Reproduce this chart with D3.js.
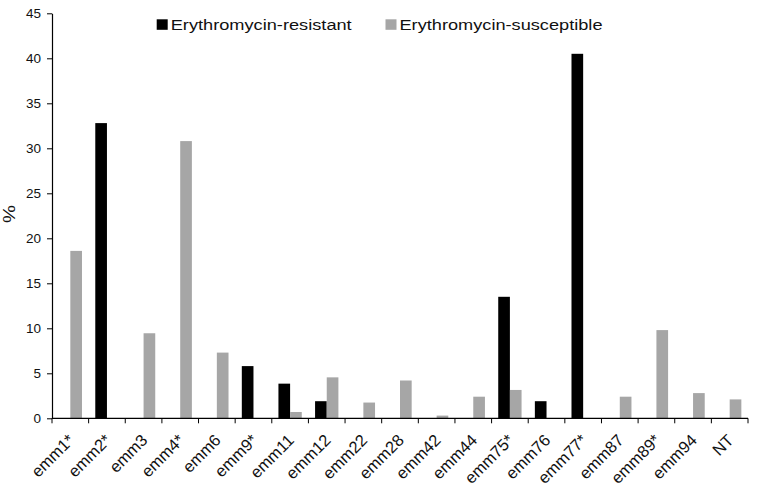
<!DOCTYPE html>
<html>
<head>
<meta charset="utf-8">
<script src="https://cdn.jsdelivr.net/npm/d3@7"></script>
<style>
  body { margin: 0; background: #fff; }
  svg { display: block; font-family: Arial, "Liberation Sans", sans-serif; }
</style>
</head>
<body>
<svg id="chart" width="761" height="503"></svg>
<script>
const categories = ["emm1*","emm2*","emm3","emm4*","emm6","emm9*","emm11","emm12","emm22","emm28","emm42","emm44","emm75*","emm76","emm77*","emm87","emm89*","emm94","NT"];
const resistant   = [0, 32.8, 0, 0, 0, 5.8, 3.85, 1.9, 0, 0, 0, 0, 13.5, 1.9, 40.5, 0, 0, 0, 0];
const susceptible = [18.6, 0, 9.45, 30.8, 7.3, 0, 0.7, 4.55, 1.75, 4.2, 0.3, 2.4, 3.15, 0, 0, 2.4, 9.8, 2.8, 2.1];
const seriesNames = ["Erythromycin-resistant", "Erythromycin-susceptible"];
const seriesColors = ["#000000", "#a6a6a6"];
const yTicks = [0, 5, 10, 15, 20, 25, 30, 35, 40, 45];

(function () {
const svg = d3.select("#chart");
const mLeft = 52, mRight = 748, mTop = 13.3, mBottom = 418.3;

const x = d3.scaleBand().domain(categories).range([mLeft, mRight]).paddingInner(0).paddingOuter(0);
const xs = d3.scaleBand().domain([0, 1]).range([0, x.bandwidth()]).paddingInner(0).paddingOuter(0.57);
const y = d3.scaleLinear().domain([0, 45]).range([mBottom, mTop]);

// bars
const data = [];
categories.forEach((c, i) => {
  data.push({ c, s: 0, v: resistant[i] });
  data.push({ c, s: 1, v: susceptible[i] });
});
svg.append("g").selectAll("rect").data(data.filter(d => d.v > 0)).join("rect")
  .attr("x", d => x(d.c) + xs(d.s))
  .attr("width", xs.bandwidth())
  .attr("y", d => y(d.v))
  .attr("height", d => y(0) - y(d.v))
  .attr("fill", d => seriesColors[d.s]);

// y axis
const yAxis = d3.axisLeft(y).tickValues(yTicks).tickSize(5).tickSizeOuter(0).tickPadding(6);
const gy = svg.append("g").attr("transform", `translate(${mLeft},0)`).call(yAxis);
gy.select(".domain").attr("stroke", "#000").attr("stroke-width", 1.2);
gy.selectAll(".tick line").attr("stroke", "#000");
gy.selectAll(".tick text").attr("font-size", 13.5).attr("fill", "#111").attr("font-family", "Arial, 'Liberation Sans', sans-serif");

// x axis: line + boundary ticks
const gx = svg.append("g");
gx.append("line").attr("x1", mLeft).attr("x2", mRight).attr("y1", mBottom).attr("y2", mBottom)
  .attr("stroke", "#000").attr("stroke-width", 1.2);
const boundaries = categories.map(c => x(c)).concat([x(categories[categories.length - 1]) + x.bandwidth()]);
gx.selectAll("line.tk").data(boundaries).join("line").attr("class", "tk")
  .attr("x1", d => d).attr("x2", d => d).attr("y1", mBottom).attr("y2", mBottom + 5)
  .attr("stroke", "#000");
gx.selectAll("text").data(categories).join("text")
  .attr("transform", d => `translate(${x(d) + x.bandwidth() / 2 + 5},${mBottom + 23}) rotate(-45)`)
  .attr("text-anchor", "end")
  .attr("font-size", 16.5)
  .attr("fill", "#111")
  .text(d => d);

// y label
svg.append("text").attr("transform", `translate(15,214) rotate(-90)`)
  .attr("text-anchor", "middle").attr("font-size", 16).attr("fill", "#111")
  .attr("textLength", 18).attr("lengthAdjust", "spacingAndGlyphs").text("%");

// legend
const legX = [156.7, 385.5];
const legLen = [181, 203];
const leg = svg.append("g");
seriesNames.forEach((n, i) => {
  leg.append("rect").attr("x", legX[i]).attr("y", 19.3).attr("width", 11).attr("height", 10.5).attr("fill", seriesColors[i]);
  leg.append("text").attr("x", legX[i] + 14).attr("y", 29.5).attr("font-size", 15.5).attr("fill", "#111")
    .attr("textLength", legLen[i]).attr("lengthAdjust", "spacingAndGlyphs").text(n);
});
})();
</script>
</body>
</html>
